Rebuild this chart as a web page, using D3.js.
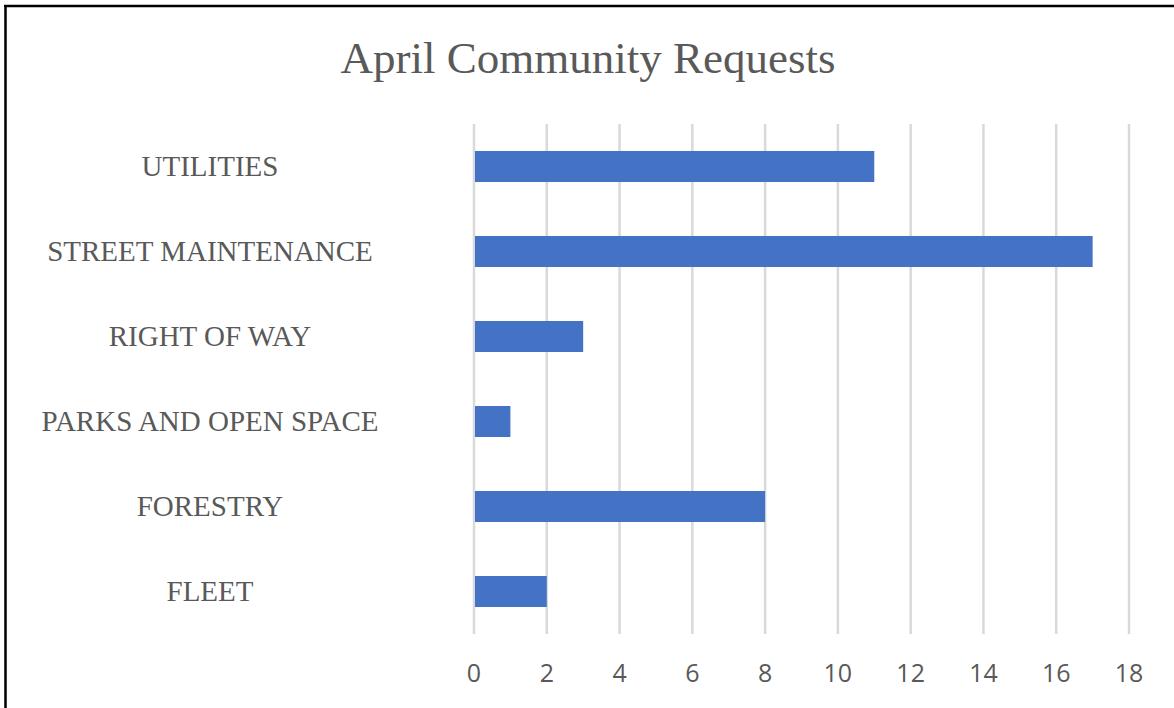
<!DOCTYPE html>
<html>
<head>
<meta charset="utf-8">
<script src="https://cdn.jsdelivr.net/npm/d3@7"></script>
<style>
  body { margin: 0; background: #fff; }
  .grid-line { stroke: #d9d9d9; stroke-width: 2.5; }
  .bar { fill: #4472c4; }
  .cat-label { font-family: "Liberation Serif", "Times New Roman", serif; font-size: 29px; fill: #595959; }
  .tick-label { font-family: "Open Sans", Calibri, sans-serif; font-size: 25px; fill: #595959; }
  .title { font-family: "Liberation Serif", "Times New Roman", serif; font-size: 45px; fill: #595959; }
</style>
</head>
<body>
<svg id="chart" width="1174" height="708"></svg>
<script>
// chart data, top to bottom as shown
var categories = ["UTILITIES", "STREET MAINTENANCE", "RIGHT OF WAY", "PARKS AND OPEN SPACE", "FORESTRY", "FLEET"];
var requests = [11, 17, 3, 1, 8, 2];
var tickValues = [0, 2, 4, 6, 8, 10, 12, 14, 16, 18];
var titleText = "April Community Requests";

var width = 1174, height = 708;
var plotLeft = 474, plotRight = 1129;   // x of 0 and 18
var plotTop = 124, plotBottom = 634;
var labelCenterX = 210;

var svg = d3.select("#chart");

svg.append("rect")
   .attr("width", width)
   .attr("height", height)
   .attr("fill", "#fff");

// frame only shows on top and left (cropped screenshot)
svg.append("line")
   .attr("x1", 4).attr("x2", width)
   .attr("y1", 6).attr("y2", 6)
   .attr("stroke", "#000").attr("stroke-width", 2.5);
svg.append("line")
   .attr("x1", 5.5).attr("x2", 5.5)
   .attr("y1", 5).attr("y2", height)
   .attr("stroke", "#000").attr("stroke-width", 2.5);

var x = d3.scaleLinear()
   .domain([tickValues[0], tickValues[tickValues.length - 1]])
   .range([plotLeft, plotRight]);

var y = d3.scaleBand()
   .domain(categories)
   .range([plotTop, plotBottom])
   .paddingInner(0.635)
   .paddingOuter(0.3175);

// vertical gridlines
svg.selectAll("line.grid-line")
   .data(tickValues)
   .enter()
   .append("line")
   .attr("class", "grid-line")
   .attr("x1", function(d){ return x(d); })
   .attr("x2", function(d){ return x(d); })
   .attr("y1", plotTop)
   .attr("y2", plotBottom);

// bars
svg.selectAll("rect.bar")
   .data(categories)
   .enter()
   .append("rect")
   .attr("class", "bar")
   .attr("x", x(0) + 1)
   .attr("y", function(d){ return y(d); })
   .attr("width", function(d, i){ return x(requests[i]) - x(0) - 1; })
   .attr("height", y.bandwidth());

// category labels
svg.selectAll("text.cat-label")
   .data(categories)
   .enter()
   .append("text")
   .attr("class", "cat-label")
   .attr("text-anchor", "middle")
   .attr("x", labelCenterX)
   .attr("y", function(d){ return y(d) + y.bandwidth() / 2 + 9.5; })
   .text(function(d){ return d; });

// value axis labels
svg.selectAll("text.tick-label")
   .data(tickValues)
   .enter()
   .append("text")
   .attr("class", "tick-label")
   .attr("text-anchor", "middle")
   .attr("x", function(d){ return x(d); })
   .attr("y", 682)
   .text(function(d){ return d; });

svg.append("text")
   .attr("class", "title")
   .attr("text-anchor", "middle")
   .attr("x", 588)
   .attr("y", 73)
   .text(titleText);
</script>
</body>
</html>
